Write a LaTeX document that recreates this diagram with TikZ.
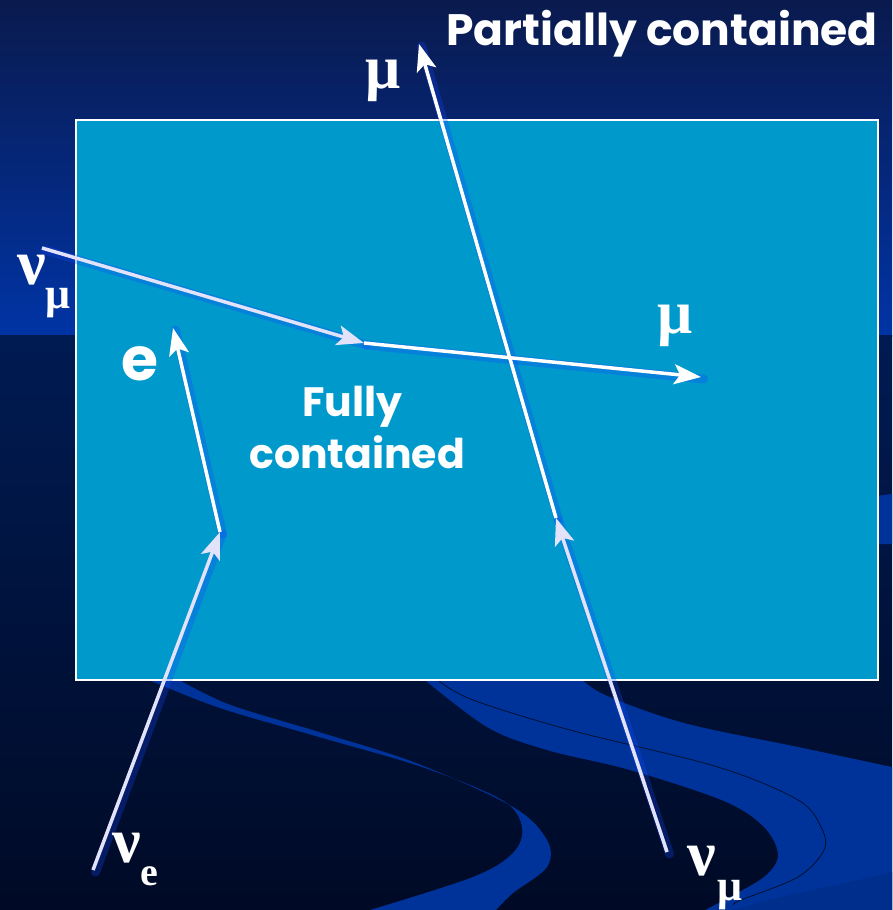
\documentclass[tikz,border=0pt]{standalone}
\usepackage{fontspec}
\usetikzlibrary{arrows.meta}
\newfontfamily\comic{Poppins}
\newfontfamily\grk{Liberation Serif}
\definecolor{topnavy}{RGB}{10,26,78}
\definecolor{midblue}{RGB}{0,52,165}
\definecolor{lownavy}{RGB}{0,27,82}
\definecolor{deepnavy}{RGB}{0,10,38}
\definecolor{boxcyan}{RGB}{0,153,204}
\definecolor{waveblue}{RGB}{0,51,153}
\definecolor{wavedeep}{RGB}{0,46,140}
\definecolor{folddark}{RGB}{0,16,50}
\definecolor{lav}{RGB}{226,226,250}
\definecolor{glowblue}{RGB}{20,70,255}
\begin{document}
\begin{tikzpicture}[x=1pt,y=-1pt,
  lbl/.style={inner sep=0pt,anchor=base west,text=white},
  wave/.style={fill=waveblue},
  fold/.style={draw=folddark,line width=0.8pt},
  boxstyle/.style={draw=white,line width=2pt,fill=boxcyan},
  tipstyle/.style={-{Stealth[length=27pt,width=20pt,inset=6pt]}},
  inarrow/.style={tipstyle,draw=lav,line width=3.5pt},
  outarrow/.style={tipstyle,draw=white,line width=3.5pt},
  glowline/.style={draw=glowblue,line width=9pt,opacity=0.28,line cap=round},
  comicf/.style={font=\comic\bfseries\fontsize{#1}{52}\selectfont},
  grkf/.style={font=\grk\bfseries\fontsize{#1}{#1}\selectfont}]
\useasboundingbox (0,0) rectangle (892,910);
% background
\shade[top color=topnavy,bottom color=midblue] (0,0) rectangle (892,336);
\shade[top color=lownavy,bottom color=deepnavy] (0,335) rectangle (892,910);
% waves
\fill[wave] plot[smooth,tension=0.55] coordinates {(140,676)(217,707)(319,737)(422,767)(502,800)(522,827)(513,853)(473,877)(370,910)}
  -- plot[smooth,tension=0.55] coordinates {(496,910)(513,893)(547,867)(547,840)(513,807)(416,763)(319,732)(228,704)(172,676)} -- cycle;
\fill[wave] plot[smooth,tension=0.55] coordinates {(420,676)(487,727)(547,750)(630,770)(724,801)(764,827)(778,855)(764,877)(724,900)(705,910)}
  -- (892,910) -- plot[smooth,tension=0.55] coordinates {(892,767)(798,747)(684,723)(605,695)(578,676)} -- cycle;
\fill[wavedeep] (733,910) .. controls (790,893) and (840,885) .. (892,872) -- (892,910) -- cycle;
\draw[fold] plot[smooth,tension=0.55] coordinates {(439,681)(473,700)(570,730)(718,767)(798,800)(821,827)(824,850)(798,877)(741,900)(733,905)};
\fill[wave] (860,498) -- (892,494) -- (892,544) -- (860,544) -- cycle;
% detector box
\draw[boxstyle] (76,120) rectangle (878,680);
% track points
\coordinate (numuL) at (42,248);
\coordinate (vtxA) at (364,343);
\coordinate (muA) at (701,377);
\coordinate (nue) at (93,870);
\coordinate (vtxB) at (220,532);
\coordinate (eEnd) at (173,328);
\coordinate (numuB) at (667,852);
\coordinate (vtxC) at (556,518);
\coordinate (muC) at (419,44);
% glows
\foreach \a/\b in {numuL/vtxA,vtxA/muA,nue/vtxB,vtxB/eEnd,numuB/vtxC,vtxC/muC}
  \draw[glowline] ([shift={(2.5,2)}]\a) -- ([shift={(2.5,2)}]\b);
% tracks
\draw[inarrow] (numuL) -- (vtxA);
\draw[outarrow] (vtxA) -- (muA);
\draw[inarrow] (nue) -- (vtxB);
\draw[outarrow] (vtxB) -- (eEnd);
\draw[inarrow] (numuB) -- (vtxC);
\draw[outarrow] (vtxC) -- (muC);
% labels
\node[lbl,comicf=44] (partial) at (446,45) {Partially contained};
\node[lbl,comicf=41] (fully) at (302,416) {Fully};
\node[lbl,comicf=41] (contained) at (249,468) {contained};
\node[lbl,comicf=60] (elab) at (121,380) {e};
\node[lbl,grkf=64] (nuL) at (17,284) {ν};
\node[lbl,grkf=44] (muLs) at (45,308) {μ};
\node[lbl,grkf=62] (muR) at (657,333) {μ};
\node[lbl,grkf=62] (muT) at (365,88) {μ};
\node[lbl,grkf=64] (nuE) at (112,862) {ν};
\node[lbl,grkf=40] (eSub) at (140,885) {e};
\node[lbl,grkf=64] (nuB) at (687,875) {ν};
\node[lbl,grkf=44] (muBs) at (717,900) {μ};
\end{tikzpicture}
\end{document}
